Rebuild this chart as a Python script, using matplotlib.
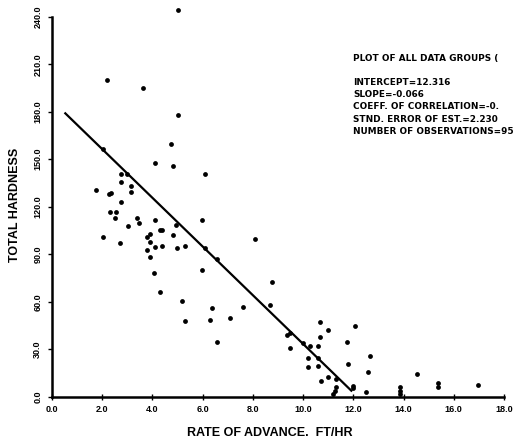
import matplotlib
matplotlib.use("Agg")
import matplotlib.pyplot as plt

rate = [5.03, 2.21, 3.63, 5.02, 4.72, 4.12, 4.80, 6.11, 2.04, 2.74, 2.97, 2.73, 3.13, 3.13,
        1.74, 2.27, 2.35, 2.73, 2.31, 2.53, 2.50, 3.37, 3.45, 4.12, 5.98, 2.02, 2.70, 3.01,
        3.80, 3.92, 3.90, 3.78, 3.90, 4.10, 4.29, 4.40, 4.39, 4.80, 4.92, 4.98, 5.29, 6.08,
        5.99, 6.57, 4.07, 4.29, 5.18, 5.29, 6.37, 6.28, 7.08, 7.59, 6.59, 8.10, 8.77, 8.69,
        9.37, 9.46, 9.49, 9.99, 10.29, 10.19, 10.19, 10.59, 10.66, 10.68, 10.99, 10.59, 10.59,
        10.70, 10.99, 11.29, 11.29, 11.28, 11.19, 11.76, 11.78, 12.07, 11.98, 11.98, 12.49,
        12.58, 12.67, 13.86, 13.86, 13.86, 14.54, 15.39, 15.39, 16.98]
hardness = [244.3, 200.0, 194.8, 178.0, 159.4, 147.4, 145.9, 140.7, 156.5, 140.7, 140.7, 135.4,
            133.1, 129.5, 130.6, 127.9, 128.9, 123.2, 116.5, 116.9, 112.7, 112.7, 109.9, 111.6,
            111.6, 100.7, 96.9, 107.8, 100.7, 102.8, 97.9, 92.7, 88.4, 94.8, 105.3, 105.3, 95.2,
            102.0, 108.3, 93.7, 95.4, 93.7, 80.0, 87.2, 78.0, 66.3, 60.5, 48.0, 55.8, 48.5, 49.9,
            56.5, 34.7, 99.4, 72.3, 57.9, 39.0, 40.0, 30.6, 33.7, 32.2, 24.6, 18.6, 32.2, 47.4,
            37.9, 42.1, 24.3, 19.6, 9.9, 12.3, 11.2, 5.9, 3.8, 1.7, 34.7, 20.7, 44.9, 6.8, 5.3,
            2.8, 15.4, 25.9, 5.9, 3.8, 1.7, 14.1, 8.8, 5.9, 7.4]

fit_x = [0.53, 11.92]
fit_y = [179.0, 3.8]

x_ticks = [0, 2, 4, 6, 8, 10, 12, 14, 16, 18]
y_ticks = [0, 30, 60, 90, 120, 150, 180, 210, 240]

info_lines = ["PLOT OF ALL DATA GROUPS (",
              "",
              "INTERCEPT=12.316",
              "SLOPE=-0.066",
              "COEFF. OF CORRELATION=-0.",
              "STND. ERROR OF EST.=2.230",
              "NUMBER OF OBSERVATIONS=95"]

W, H = 513, 444
fig = plt.figure(figsize=(W / 100, H / 100), dpi=100)
ax = fig.add_axes([52 / W, 1 - 396.7 / H, 452 / W, (396.7 - 4.1) / H])
ax.set_xlim(0, 18)
ax.set_ylim(0, 248)
ax.patch.set_alpha(0)

ax.scatter(rate, hardness, s=12, c="black", marker="o", linewidths=0, clip_on=False, zorder=3)
ax.plot(fit_x, fit_y, color="black", lw=1.6, zorder=2)

for s in ["top", "right"]:
    ax.spines[s].set_visible(False)
for s in ["left", "bottom"]:
    ax.spines[s].set_linewidth(1.8)
ax.spines["left"].set_bounds(0, 240)

tick_font = dict(family="Liberation Sans", weight="bold", size=6.5)
ax.set_xticks(x_ticks)
ax.set_xticklabels([f"{v:.1f}" for v in x_ticks], fontdict=tick_font)
ax.set_yticks(y_ticks)
ax.set_yticklabels([f"{v:.1f}" for v in y_ticks], fontdict=tick_font, rotation=90, va="center")
ax.tick_params(axis="x", direction="inout", length=4, width=1, pad=4)
ax.tick_params(axis="y", direction="out", length=3, width=1, pad=4)

fig.text(15 / W, 1 - 205 / H, "TOTAL HARDNESS", rotation=90, ha="center", va="center",
         family="Liberation Sans", weight="bold", size=9)
fig.text(270 / W, 1 - 433 / H, "RATE OF ADVANCE.  FT/HR", ha="center", va="center",
         family="Liberation Sans", weight="bold", size=9)

y0 = 58
dy = 12.2
for i, line in enumerate(info_lines):
    if line:
        fig.text(353 / W, 1 - (y0 + i * dy) / H, line, ha="left", va="center",
                 family="DejaVu Sans", weight="bold", size=6.4)

fig.savefig("out.png", dpi=100, facecolor="white")
